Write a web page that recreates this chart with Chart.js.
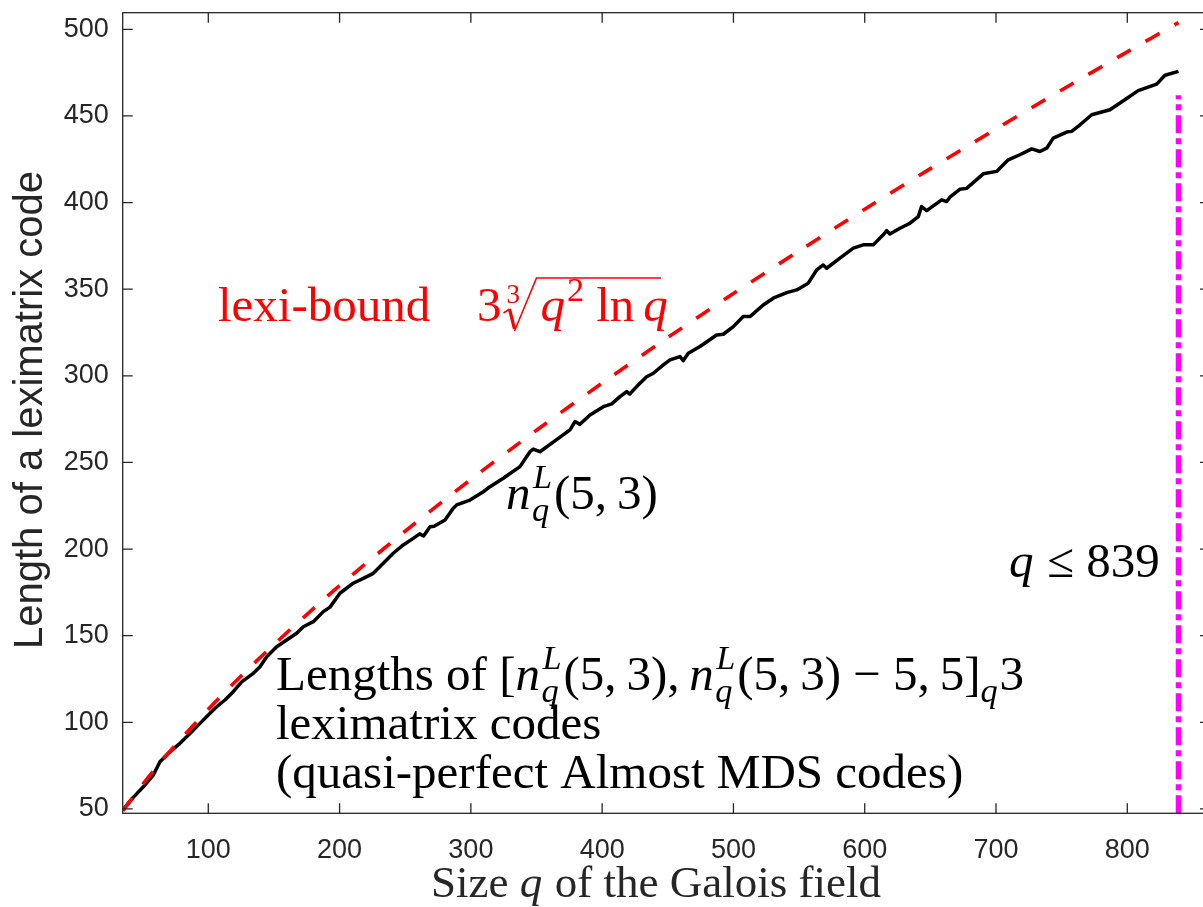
<!DOCTYPE html>
<html>
<head>
<meta charset="utf-8">
<script src="https://cdn.jsdelivr.net/npm/chart.js@4.4.0/dist/chart.umd.min.js"></script>
<style>
  html, body { margin: 0; padding: 0; overflow: hidden; background: #ffffff; }
  #wrap { position: relative; width: 1216px; height: 907px; }
</style>
</head>
<body>
<div id="wrap"><canvas id="c" width="1216" height="907"></canvas></div>
<script>
// Field sizes q and the lengths n_q^L(5,3) of the leximatrix codes
const qN = [35, 42.9, 50.5, 58.1, 63.2, 69.5, 78.4, 86.1, 93.7, 101.3, 106.4, 112.7, 119.0, 125.4,
  134.3, 139.4, 144.5, 152.1, 159.7, 167.3, 172.4, 180.0, 187.6, 192.7, 200.3, 210.4, 218.1,
  225.7, 233.3, 240.9, 248.5, 256.1, 261.0, 264.0, 268.9, 272.0, 280.3, 286.6, 289.2, 299.3,
  309.5, 314.6, 324.7, 337.4, 345.0, 347.5, 352.6, 364.0, 375.5, 379.3, 383.1, 390.7, 400.9,
  407.3, 413.6, 418.7, 421.0, 426.3, 433.9, 439.0, 446.6, 451.7, 459.3, 461.8, 465.6, 474.5,
  487.2, 492.3, 499.9, 507.5, 512.6, 522.7, 530.3, 540.6, 548.2, 557.0, 563.4, 568.4, 571.0,
  581.1, 591.3, 598.9, 606.5, 614.1, 616.7, 619.2, 626.8, 634.5, 640.8, 643.3, 647.2, 658.6,
  662.4, 664.9, 672.6, 677.6, 690.3, 700.5, 709.3, 718.2, 727.2, 733.5, 738.6, 743.6, 753.8,
  757.6, 764.0, 772.9, 786.8, 797.0, 808.3, 822.4, 828.7, 839];
const nL = [49.5, 56.7, 62.8, 69.6, 77.3, 82.1, 87.9, 93.6, 99.4, 105.2, 109.0, 112.9, 117.7, 123.4,
  128.3, 132.1, 137.9, 143.6, 147.5, 151.4, 155.2, 158.1, 163.9, 166.5, 174.5, 180.3, 183.1,
  186.0, 191.8, 197.6, 202.4, 206.2, 208.8, 207.6, 212.9, 213.2, 216.8, 223.6, 225.5, 228.3,
  233.1, 236.0, 240.9, 247.6, 256.2, 257.7, 256.2, 262.5, 268.8, 273.6, 272.0, 277.4, 282.2,
  283.8, 288.0, 290.9, 289.5, 293.8, 299.5, 301.5, 306.3, 309.2, 311.1, 308.8, 313.0, 316.9,
  323.6, 324.0, 328.4, 334.2, 334.2, 340.9, 344.8, 348.0, 349.6, 353.5, 361.1, 364.0, 362.1,
  367.9, 373.7, 375.6, 375.6, 381.4, 383.8, 381.9, 385.2, 388.1, 391.9, 397.7, 395.4, 401.6,
  400.6, 403.1, 407.7, 408.2, 416.6, 418.0, 424.7, 427.6, 431.0, 429.5, 431.4, 437.2, 440.7,
  441.1, 444.9, 450.7, 453.6, 458.8, 464.6, 468.4, 473.5, 475.7];

// Lexi-bound 3*cbrt(q^2 ln q)
const qBound = [35, 40, 50, 60, 75, 100, 125, 150, 175, 200, 250, 300, 350, 400, 450, 500, 550,
  600, 650, 700, 750, 800, 839];
const lexiBound = [49.0, 54.2, 64.2, 73.6, 86.9, 107.5, 126.8, 144.9, 162.2, 178.9, 210.4, 240.2,
  268.6, 295.8, 322.1, 347.5, 372.1, 396.2, 419.6, 442.5, 465.0, 487.0, 503.9];

// Largest field size covered
const qLimit = [839, 839];
const qLimitSpan = [47.5, 462];

// Axis ticks and ranges
const xTicks = [100, 200, 300, 400, 500, 600, 700, 800];
const yTicks = [50, 100, 150, 200, 250, 300, 350, 400, 450, 500];
const xRange = [34.8, 863];
const yRange = [47.5, 509.6];

const AX = '#262626';
const SERIF = '"Liberation Serif", "Times New Roman", serif';
const SANS = '"Liberation Sans", Arial, sans-serif';

function pts(xs, ys) { return xs.map((x, i) => ({ x: x, y: ys[i] })); }

// --- small rich-text helper: runs of text with italic / sup / sub parts ---
function fontFor(size, it) { return (it ? 'italic ' : '') + size + 'px ' + SERIF; }
function drawRuns(ctx, x, y, runs, F, draw) {
  let cx = x;
  for (const r of runs) {
    if (r.sup !== undefined || r.sub !== undefined) {
      const s = F * 0.7; let w = 0;
      ctx.font = fontFor(s, true);
      if (r.sup !== undefined) { if (draw) ctx.fillText(r.sup, cx + 1, y - F * 0.42); w = Math.max(w, ctx.measureText(r.sup).width + 1); }
      if (r.sub !== undefined) { if (draw) ctx.fillText(r.sub, cx, y + F * 0.24); w = Math.max(w, ctx.measureText(r.sub).width); }
      cx += w + F * 0.04;
    } else {
      ctx.font = fontFor(F, r.it);
      if (draw) ctx.fillText(r.t, cx, y);
      cx += ctx.measureText(r.t).width + (r.it ? F * 0.03 : 0);
    }
  }
  return cx - x;
}

const frame = {
  id: 'frame',
  afterDraw(chart) {
    const ctx = chart.ctx, a = chart.chartArea;
    const xs = chart.scales.x, ys = chart.scales.y;
    ctx.save();
    ctx.strokeStyle = AX; ctx.lineWidth = 1.3;
    ctx.strokeRect(a.left, a.top, a.right - a.left, a.bottom - a.top);
    ctx.beginPath();
    const tl = 10;
    xTicks.forEach(v => {
      const px = xs.getPixelForValue(v);
      ctx.moveTo(px, a.bottom); ctx.lineTo(px, a.bottom - tl);
      ctx.moveTo(px, a.top); ctx.lineTo(px, a.top + tl);
    });
    yTicks.forEach(v => {
      const py = ys.getPixelForValue(v);
      ctx.moveTo(a.left, py); ctx.lineTo(a.left + tl, py);
      ctx.moveTo(a.right, py); ctx.lineTo(a.right - tl, py);
    });
    ctx.stroke();

    // axis titles
    ctx.fillStyle = AX;
    ctx.textBaseline = 'alphabetic';
    const xt = [{ t: 'Size ' }, { t: 'q', it: 1 }, { t: ' of the Galois field' }];
    const wx = drawRuns(ctx, 0, 0, xt, 45, false);
    drawRuns(ctx, 656 - wx / 2, 897, xt, 45, true);

    ctx.save();
    ctx.translate(42, 410);
    ctx.rotate(-Math.PI / 2);
    ctx.font = '40px ' + SANS;
    ctx.textAlign = 'center';
    ctx.fillText('Length of a leximatrix code', 0, 0);
    ctx.restore();

    // annotations
    const F = 49;
    ctx.fillStyle = '#ff0000'; ctx.strokeStyle = '#ff0000';
    drawRuns(ctx, 218, 321, [{ t: 'lexi-bound' }], F, true);
    // 3 * cube root (q^2 ln q)
    let x0 = 477;
    const by = 321;
    ctx.font = fontFor(F, false);
    ctx.fillText('3', x0, by);
    x0 += ctx.measureText('3').width + 3;
    ctx.font = fontFor(F * 0.55, false);
    ctx.fillText('3', x0 + 2, by - 18);
    ctx.lineCap = 'butt'; ctx.lineJoin = 'miter';
    ctx.lineWidth = 1.6;
    ctx.beginPath();
    ctx.moveTo(x0 - 1, by - 8); ctx.lineTo(x0 + 5, by - 12); ctx.stroke();
    ctx.lineWidth = 3.2;
    ctx.beginPath(); ctx.moveTo(x0 + 5, by - 12); ctx.lineTo(x0 + 10, by + 8); ctx.stroke();
    ctx.lineWidth = 1.6;
    ctx.beginPath(); ctx.moveTo(x0 + 10, by + 10); ctx.lineTo(x0 + 32, by - 43);
    ctx.lineTo(661, by - 43); ctx.stroke();
    // inner expression q^2 ln q
    let cx = x0 + 36;
    ctx.font = fontFor(F, true); ctx.fillText('q', cx, by); cx += ctx.measureText('q').width + 2;
    ctx.font = fontFor(F * 0.7, false); ctx.fillText('2', cx, by - 20); cx += ctx.measureText('2').width + 12;
    ctx.font = fontFor(F, false); ctx.fillText('ln', cx, by); cx += ctx.measureText('ln').width + 9;
    ctx.font = fontFor(F, true); ctx.fillText('q', cx, by);

    ctx.fillStyle = '#000000';
    drawRuns(ctx, 506, 509, [{ t: 'n', it: 1 }, { sup: 'L', sub: 'q' }, { t: '(5,\u20093)' }], F, true);
    drawRuns(ctx, 1009, 577, [{ t: 'q', it: 1 }, { t: ' \u2264 839' }], F, true);
    drawRuns(ctx, 276, 690, [
      { t: 'Lengths of [' }, { t: 'n', it: 1 }, { sup: 'L', sub: 'q' }, { t: '(5,\u20093),\u2009' },
      { t: 'n', it: 1 }, { sup: 'L', sub: 'q' }, { t: '(5,\u20093) \u2212 5,\u20095]' }, { sub: 'q' }, { t: '3' }
    ], F, true);
    drawRuns(ctx, 276, 739, [{ t: 'leximatrix codes' }], F, true);
    drawRuns(ctx, 276, 788, [{ t: '(quasi-perfect Almost MDS codes)' }], F, true);
    ctx.restore();
  }
};

new Chart(document.getElementById('c'), {
  type: 'line',
  data: {
    datasets: [
      { label: 'n_q^L(5,3)', data: pts(qN, nL), borderColor: '#000000', borderWidth: 3.5,
        pointRadius: 0, tension: 0, borderJoinStyle: 'round', order: 2 },
      { label: 'lexi-bound', data: pts(qBound, lexiBound), borderColor: '#ff0000', borderWidth: 3.6,
        borderDash: [16, 17], pointRadius: 0, tension: 0.3, order: 1 },
      { label: 'q <= 839', data: pts(qLimit, qLimitSpan), borderColor: '#ff00ff', borderWidth: 5.5,
        borderDash: [18, 5, 6, 5], pointRadius: 0, order: 0 }
    ]
  },
  options: {
    responsive: false,
    devicePixelRatio: 1,
    animation: false,
    events: [],
    layout: { padding: { left: 0, right: 6, top: 12.7, bottom: 0 } },
    plugins: { legend: { display: false }, tooltip: { enabled: false } },
    scales: {
      x: {
        type: 'linear', min: xRange[0], max: xRange[1],
        afterFit: s => { s.height = 93.7; s.paddingLeft = 0; s.paddingRight = 0; s.paddingTop = 0; s.paddingBottom = 0; },
        afterBuildTicks: s => { s.ticks = xTicks.map(v => ({ value: v })); },
        grid: { display: false, drawTicks: false }, border: { display: false },
        ticks: { color: AX, font: { family: SANS, size: 27 }, padding: 21, maxRotation: 0,
                 callback: v => String(v) }
      },
      y: {
        type: 'linear', min: yRange[0], max: yRange[1],
        afterFit: s => { s.width = 122.7; s.paddingTop = 0; s.paddingBottom = 0; s.paddingLeft = 0; s.paddingRight = 0; },
        afterBuildTicks: s => { s.ticks = yTicks.map(v => ({ value: v })); },
        grid: { display: false, drawTicks: false }, border: { display: false },
        ticks: { color: AX, font: { family: SANS, size: 27 }, padding: 14, callback: v => String(v) }
      }
    }
  },
  plugins: [frame]
});
</script>
</body>
</html>
